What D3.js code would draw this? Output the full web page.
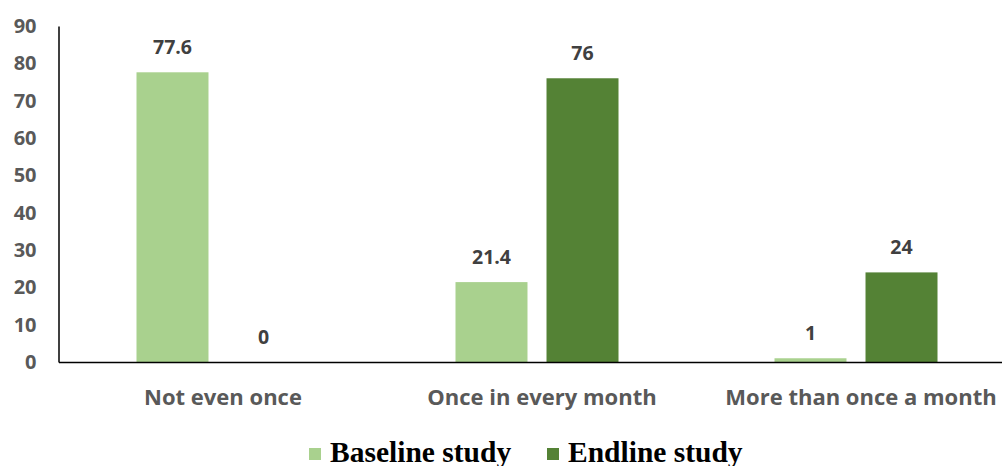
<!DOCTYPE html>
<html><head><meta charset="utf-8">
<script src="https://cdn.jsdelivr.net/npm/d3@7"></script>
<style>body{margin:0;background:#fff}svg{display:block}</style>
</head><body>
<svg id="c" width="1002" height="466"></svg>
<script>
const categories = ["Not even once", "Once in every month", "More than once a month"];
const seriesNames = ["Baseline study", "Endline study"];
const baseline = [77.6, 21.4, 1];
const endline = [0, 76, 24];
const yTicks = [0,10,20,30,40,50,60,70,80,90];
const colors = ["#A9D18E", "#548235"];

const svg = d3.select("#c");
const y = d3.scaleLinear().domain([0,90]).range([362,26]);
const x0 = d3.scaleBand().domain(categories).range([58.5,1015.5]);
const x1 = d3.scaleBand().domain(seriesNames).range([0,x0.bandwidth()]).paddingInner(0.209).paddingOuter(0.857);
const vals = [baseline, endline];

const labelFont = "'Open Sans', sans-serif";

// bars
categories.forEach((c,i)=>{
  seriesNames.forEach((s,j)=>{
    const v = vals[j][i];
    svg.append("rect")
      .attr("x", x0(c)+x1(s)).attr("width", x1.bandwidth())
      .attr("y", y(v)).attr("height", y(0)-y(v))
      .attr("fill", colors[j]);
    svg.append("text")
      .attr("x", x0(c)+x1(s)+x1.bandwidth()/2)
      .attr("y", y(v)-18)
      .attr("text-anchor","middle")
      .attr("font-family", labelFont).attr("font-weight","bold")
      .attr("font-size","19.5px").attr("fill","#404040")
      .text(v);
  });
});

// y axis
const yAxis = d3.axisLeft(y).tickValues(yTicks).tickSize(0).tickPadding(22);
const gy = svg.append("g").attr("transform","translate(58.5,0)").call(yAxis);
gy.select(".domain").attr("stroke","#000").attr("stroke-width",1.5);
gy.selectAll("text").attr("font-family",labelFont).attr("font-weight","bold")
  .attr("font-size","20px").attr("fill","#595959");

// x axis
const xAxis = d3.axisBottom(x0).tickSize(0).tickPadding(27);
const gx = svg.append("g").attr("transform","translate(0,362)").call(xAxis);
gx.select(".domain").attr("stroke","#000").attr("stroke-width",1.5);
gx.selectAll("text").attr("font-family",labelFont).attr("font-weight","bold")
  .attr("font-size","22px").attr("fill","#595959").attr("dx", 5);

// legend
const legX = [309, 547];
seriesNames.forEach((s,j)=>{
  svg.append("rect").attr("x",legX[j]).attr("y",448).attr("width",12).attr("height",12).attr("fill",colors[j]);
  svg.append("text").attr("x",legX[j]+21).attr("y",462)
    .attr("font-family","'Liberation Serif', 'Times New Roman', serif").attr("font-weight","bold")
    .attr("font-size","29.5px").attr("fill","#000").text(s);
});
</script>
</body></html>
